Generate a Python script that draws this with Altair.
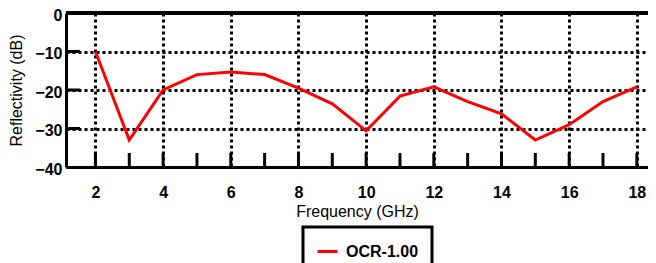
import altair as alt
import pandas as pd

freq = [2, 3, 4, 5, 6, 7, 8, 9, 10, 11, 12, 13, 14, 15, 16, 17, 18]
refl = [-10, -33, -20, -16, -15.3, -16, -19.5, -23.6, -30.6, -21.6, -19.2, -23, -26.2, -33, -29, -23, -19.2]
series = "OCR-1.00"
x_ticks = list(range(2, 19))
x_labels = [2, 4, 6, 8, 10, 12, 14, 16, 18]
y_labels = [0, -10, -20, -30, -40]
y_inner = [-10, -20, -30]

df = pd.DataFrame({"f": freq, "r": refl, "s": [series] * len(freq)})
tick_df = pd.DataFrame({"f": x_ticks})
ytick_df = pd.DataFrame({"r": y_inner})

FONT = "Liberation Sans"
W, H = 582, 154
xscale = alt.Scale(domain=[1.13, 18.33], nice=False, zero=False)
yscale = alt.Scale(domain=[-40, 0], nice=False)

xaxis = alt.Axis(values=x_labels, title="Frequency (GHz)", ticks=False,
                 domainColor="black", domainWidth=3,
                 grid=True, gridColor="black", gridDash=[3, 3], gridWidth=3, gridOpacity=1,
                 labelFont=FONT, labelFontSize=16, labelFontWeight="bold", labelColor="black",
                 labelPadding=17, labelFlush=False, labelOverlap=False,
                 titleFont=FONT, titleFontSize=16, titleFontWeight="normal", titleColor="black",
                 titlePadding=3)
yaxis = alt.Axis(values=y_labels, title="Reflectivity (dB)", ticks=False,
                 domainColor="black", domainWidth=3,
                 grid=True, gridColor="black", gridDash=[3, 3], gridWidth=3, gridOpacity=1,
                 labelFont=FONT, labelFontSize=16, labelFontWeight="bold", labelColor="black",
                 labelPadding=4, labelFlush=False, labelOverlap=False, labelOffset=2,
                 titleFont=FONT, titleFontSize=16, titleFontWeight="normal", titleColor="black",
                 titlePadding=10)

line = alt.Chart(df).mark_line(strokeWidth=3).encode(
    x=alt.X("f:Q", scale=xscale, axis=xaxis),
    y=alt.Y("r:Q", scale=yscale, axis=yaxis),
    color=alt.Color("s:N", scale=alt.Scale(domain=[series], range=["#ff0000"]),
                    legend=alt.Legend(title=None, orient="none", legendX=237, legendY=214,
                                      symbolType="stroke", symbolStrokeWidth=3, symbolSize=400,
                                      labelFont=FONT, labelFontSize=16, labelFontWeight="bold",
                                      labelColor="black", labelOffset=7, padding=13,
                                      strokeColor="black")),
)

xticks = alt.Chart(tick_df).mark_rule(color="black", strokeWidth=3).encode(
    x=alt.X("f:Q", scale=xscale, axis=xaxis), y=alt.value(H - 14), y2=alt.value(H)
)
yticks = alt.Chart(ytick_df).mark_rule(color="black", strokeWidth=3).encode(
    y=alt.Y("r:Q", scale=yscale, axis=yaxis), x=alt.value(0), x2=alt.value(14)
)
top_border = alt.Chart(tick_df).mark_rule(color="black", strokeWidth=3).encode(
    x=alt.value(0), x2=alt.value(W), y=alt.value(0)
)

chart = alt.layer(line, xticks, yticks, top_border).properties(
    width=W, height=H,
    autosize=alt.AutoSizeParams(type="none"),
    padding={"left": 58, "top": 5, "right": 0, "bottom": 96},
).configure_view(stroke=None).configure_legend(strokeWidth=3)

chart.save("out.html", embed_options={"renderer": "svg", "actions": False})
